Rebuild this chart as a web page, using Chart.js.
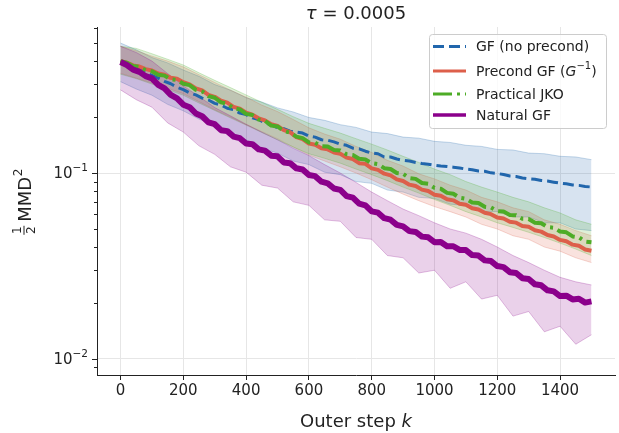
<!DOCTYPE html>
<html><head><meta charset="utf-8">
<script src="https://cdn.jsdelivr.net/npm/chart.js@4.4.1/dist/chart.umd.min.js"></script>
<style>html,body{margin:0;padding:0;background:#fff}#wrap{width:619px;height:433px}</style>
</head><body><div id="wrap"><canvas id="c" width="619" height="433"></canvas></div>
<script>
// ---- data ----
const TITLE = "0.0005";
const seriesNames = ["GF (no precond)", "Precond GF", "Practical JKO", "Natural GF"];
const xTicks = [0, 200, 400, 600, 800, 1000, 1200, 1400];
const yTickValues = [0.01, 0.1];
const yTickLabels = ["10", "10"];
const yTickExps = ["\u22122", "\u22121"];
// outer steps of the sampled points
const kMean = Array.from({length: 76}, (_, i) => i * 20);   // 0,20,...,1500
const kBand = Array.from({length: 31}, (_, i) => i * 50);   // 0,50,...,1500

const gfMean = [0.400,0.387,0.372,0.361,0.346,0.335, 0.324,0.311,0.302,0.289,0.281, 0.270,0.263,0.253,0.247,0.237, 0.232,0.223,0.219,0.210,0.206, 0.198,0.194,0.186,0.182,0.175, 0.173,0.168,0.166,0.164,0.158, 0.156,0.151,0.150,0.147,0.143, 0.141,0.136,0.135,0.131,0.128, 0.127,0.122,0.122,0.119,0.117, 0.116,0.114,0.1125,0.1115,0.110, 0.109,0.1085,0.1075,0.1065,0.105, 0.1042,0.1025,0.1022,0.1002,0.0995, 0.0982,0.0963,0.0958,0.0940,0.0932, 0.0925,0.0912,0.0905,0.0893,0.0882, 0.0875,0.0862,0.0858,0.0846,0.0841];
const precMean = [0.400,0.392,0.379,0.374,0.362,0.356, 0.343,0.338,0.325,0.321,0.308, 0.300,0.285,0.278,0.263,0.257, 0.245,0.239,0.227,0.222,0.211, 0.206,0.197,0.192,0.183,0.179, 0.170,0.166,0.156,0.152,0.144, 0.142,0.136,0.134,0.129,0.127, 0.121,0.119,0.113,0.112,0.106, 0.104,0.0992,0.0972,0.0925,0.0906, 0.0866,0.0852,0.0814,0.0800,0.0765, 0.0754,0.0723,0.0713,0.0684,0.0675, 0.0646,0.0636,0.0611,0.0601,0.0576, 0.0569,0.0547,0.0541,0.0519,0.0514, 0.0492,0.0484,0.0464,0.0456,0.0437, 0.0430,0.0412,0.0406,0.0388,0.0382];
const jkoMean = [0.400,0.392,0.376,0.372,0.357,0.353, 0.338,0.334,0.319,0.317,0.302, 0.297,0.280,0.275,0.259,0.254, 0.240,0.236,0.223,0.220,0.208, 0.205,0.194,0.191,0.180,0.178, 0.168,0.165,0.157,0.154,0.146, 0.1455,0.1395,0.1388,0.1330,0.1322, 0.1262,0.1250,0.1193,0.1183,0.1130, 0.1117,0.1062,0.1051,0.1000,0.0990, 0.0940,0.0930,0.0884,0.0875,0.0832, 0.0823,0.0782,0.0774,0.0736,0.0727, 0.0694,0.0690,0.0658,0.0653,0.0624, 0.0621,0.0595,0.0593,0.0567,0.0566, 0.0540,0.0537,0.0512,0.0508,0.0485, 0.0480,0.0456,0.0451,0.0428,0.0424];
const natMean = [0.395,0.381,0.360,0.350,0.332,0.323, 0.298,0.285,0.263,0.252,0.233, 0.226,0.209,0.202,0.187,0.183, 0.170,0.168,0.157,0.154,0.144, 0.143,0.134,0.132,0.124,0.123, 0.114,0.113,0.1060,0.1045,0.0975, 0.0962,0.0898,0.0880,0.0826,0.0812, 0.0752,0.0737,0.0684,0.0670,0.0622, 0.0612,0.0572,0.0561,0.0526,0.0516, 0.0487,0.0482,0.0455,0.0451,0.0425, 0.0426,0.0404,0.0404,0.0386,0.0385, 0.0362,0.0360,0.0339,0.0336,0.0316, 0.0312,0.0293,0.0290,0.0272,0.0269, 0.0252,0.0249,0.0234,0.0231,0.0218, 0.0219,0.0209,0.0211,0.0201,0.0204];

const gfUpper = [0.500,0.460,0.418,0.391,0.358,0.331,0.299,0.279,0.254,0.241,0.224,0.213,0.199,0.192,0.182,0.176,0.166,0.163,0.156,0.154,0.148,0.146,0.141,0.139,0.134,0.133,0.128,0.127,0.123,0.122,0.118];
const gfLower = [0.310,0.283,0.262,0.234,0.216,0.195,0.181,0.162,0.151,0.136,0.128,0.116,0.111,0.101,0.098,0.090,0.088,0.081,0.079,0.074,0.073,0.068,0.067,0.062,0.062,0.058,0.058,0.054,0.054,0.050,0.049];
const precUpper = [0.480,0.455,0.425,0.400,0.372,0.338,0.307,0.279,0.256,0.232,0.214,0.194,0.175,0.162,0.152,0.139,0.129,0.117,0.109,0.099,0.093,0.086,0.081,0.074,0.070,0.065,0.062,0.056,0.053,0.049,0.046];
const precLower = [0.344,0.324,0.305,0.286,0.267,0.242,0.219,0.200,0.182,0.167,0.153,0.138,0.125,0.116,0.108,0.100,0.092,0.084,0.077,0.071,0.066,0.062,0.058,0.053,0.050,0.046,0.044,0.040,0.038,0.035,0.033];
const jkoUpper = [0.480,0.468,0.438,0.409,0.381,0.346,0.315,0.288,0.263,0.240,0.220,0.201,0.185,0.174,0.164,0.153,0.143,0.133,0.123,0.114,0.105,0.098,0.090,0.084,0.079,0.074,0.070,0.065,0.061,0.056,0.053];
const jkoLower = [0.340,0.322,0.301,0.281,0.262,0.238,0.217,0.198,0.181,0.165,0.151,0.138,0.127,0.120,0.113,0.105,0.098,0.091,0.084,0.078,0.072,0.067,0.062,0.058,0.054,0.051,0.048,0.045,0.042,0.039,0.036];
const natUpper = [0.480,0.445,0.400,0.343,0.294,0.258,0.225,0.203,0.183,0.166,0.151,0.136,0.124,0.111,0.100,0.089,0.079,0.071,0.064,0.059,0.054,0.050,0.0475,0.044,0.040,0.036,0.033,0.030,0.0275,0.026,0.025];
const natLower = [0.280,0.248,0.226,0.186,0.166,0.140,0.126,0.108,0.101,0.086,0.083,0.070,0.067,0.056,0.055,0.045,0.044,0.036,0.035,0.029,0.030,0.024,0.026,0.021,0.022,0.017,0.018,0.0140,0.0150,0.0120,0.0135];

// ---- styles ----
const COLORS = ["#2166ac", "#dd5f4a", "#4dac26", "#8b008b"];
const RGB = ["33,102,172", "221,95,74", "77,172,38", "139,0,139"];
const DASH = [[11,5], [], [19,5,3,5], []];
const LW = [3, 4, 4, 6];
const LEG_LW = [3, 3, 3, 3.5];
const means = [gfMean, precMean, jkoMean, natMean];
const uppers = [gfUpper, precUpper, jkoUpper, natUpper];
const lowers = [gfLower, precLower, jkoLower, natLower];
const FONT = "'DejaVu Sans', sans-serif";

const pts = (ks, vs) => ks.map((k, i) => ({x: k, y: vs[i]}));
const datasets = [];
for (let s = 0; s < 4; s++) {
  datasets.push({label: seriesNames[s] + " hi", data: pts(kBand, uppers[s]), fill: "+1",
    backgroundColor: `rgba(${RGB[s]},0.18)`, borderColor: `rgba(${RGB[s]},0.25)`, borderWidth: 1,
    pointRadius: 0, order: 20 - s});
  datasets.push({label: seriesNames[s] + " lo", data: pts(kBand, lowers[s]), fill: false,
    borderColor: `rgba(${RGB[s]},0.25)`, borderWidth: 1, pointRadius: 0, order: 20 - s});
}
for (let s = 0; s < 4; s++) {
  datasets.push({label: seriesNames[s], data: pts(kMean, means[s]), fill: false,
    borderColor: COLORS[s], borderWidth: LW[s], borderDash: DASH[s], pointRadius: 0,
    borderJoinStyle: "round", order: 3 - s});
}

function richText(ctx, parts, x, y, align) {
  let w = 0;
  for (const p of parts) { ctx.font = `${p.italic ? "italic " : ""}${p.size}px ${FONT}`; p.w = ctx.measureText(p.t).width; w += p.w; }
  let cx = align === "center" ? x - w / 2 : align === "right" ? x - w : x;
  for (const p of parts) {
    ctx.font = `${p.italic ? "italic " : ""}${p.size}px ${FONT}`;
    ctx.fillText(p.t, cx, y + (p.dy || 0)); cx += p.w;
  }
  return w;
}

const overlay = {
  id: "overlay",
  afterDraw(chart) {
    const {ctx, chartArea: a, scales: {y}} = chart;
    ctx.save();
    ctx.textAlign = "left";
    ctx.fillStyle = "#222"; ctx.strokeStyle = "#222"; ctx.lineWidth = 1;
    const minors = [0.009, 0.02, 0.03, 0.04, 0.05, 0.06, 0.07, 0.08, 0.09, 0.2, 0.3, 0.4, 0.5, 0.6];
    for (const v of minors) {
      const py = Math.round(y.getPixelForValue(v)) + 0.5;
      ctx.beginPath(); ctx.moveTo(a.left - 3, py); ctx.lineTo(a.left, py); ctx.stroke();
    }
    ctx.textBaseline = "middle";
    yTickValues.forEach((v, i) => {
      const py = Math.round(y.getPixelForValue(v)) + 0.5;
      ctx.beginPath(); ctx.moveTo(a.left - 5, py); ctx.lineTo(a.left, py); ctx.stroke();
      richText(ctx, [{t: yTickLabels[i], size: 15}, {t: yTickExps[i], size: 10.5, dy: -6}], a.left - 9, py + 1, "right");
    });
    ctx.textBaseline = "alphabetic";
    const cx = (a.left + a.right) / 2;
    richText(ctx, [{t: "\u03c4", size: 18, italic: true}, {t: " = " + TITLE, size: 18}], cx, 19, "center");
    richText(ctx, [{t: "Outer step ", size: 18}, {t: "k", size: 18, italic: true}], cx, 427, "center");
    // y label (rotated)
    ctx.save();
    ctx.translate(31, 202); ctx.rotate(-Math.PI / 2);
    ctx.font = `18px ${FONT}`;
    const wM = ctx.measureText("MMD").width;
    ctx.font = `12px ${FONT}`;
    const wS = ctx.measureText("2").width;
    const wF = 9, gap = 4;
    const total = wF + gap + wM + wS;
    let sx = -total / 2;
    ctx.textAlign = "center";
    ctx.fillText("1", sx + wF / 2, -10);
    ctx.fillText("2", sx + wF / 2, 4);
    ctx.fillRect(sx, -7.5, wF, 1);
    ctx.textAlign = "left";
    sx += wF + gap;
    ctx.font = `18px ${FONT}`;
    ctx.fillText("MMD", sx, 0);
    ctx.font = `12px ${FONT}`;
    ctx.fillText("2", sx + wM + 0.5, -9);
    ctx.restore();
    // legend
    const L = 429, T = 34, R = 606, B = 128;
    ctx.fillStyle = "rgba(255,255,255,0.8)";
    ctx.strokeStyle = "#cccccc";
    ctx.beginPath(); ctx.roundRect(L + 0.5, T + 0.5, R - L, B - T, 3); ctx.fill(); ctx.stroke();
    const rows = [46.5, 71, 94, 115];
    const labels = [
      [{t: "GF (no precond)", size: 14}],
      [{t: "Precond GF (", size: 14}, {t: "G", size: 14, italic: true}, {t: "\u22121", size: 10, dy: -6}, {t: ")", size: 14}],
      [{t: "Practical JKO", size: 14}],
      [{t: "Natural GF", size: 14}]
    ];
    for (let s = 0; s < 4; s++) {
      ctx.strokeStyle = COLORS[s]; ctx.lineWidth = LEG_LW[s];
      ctx.setLineDash(DASH[s]);
      ctx.beginPath(); ctx.moveTo(433, rows[s]); ctx.lineTo(466, rows[s]); ctx.stroke();
      ctx.setLineDash([]);
      ctx.fillStyle = "#222"; ctx.textBaseline = "middle";
      richText(ctx, labels[s], 476, rows[s] + 1, "left");
    }
    ctx.restore();
  }
};

new Chart(document.getElementById("c"), {
  type: "line",
  data: {datasets},
  options: {
    responsive: false, animation: false, devicePixelRatio: 1,
    layout: {padding: {top: 27, right: 4, left: 0, bottom: 0}},
    plugins: {legend: {display: false}, tooltip: {enabled: false}, title: {display: false}},
    elements: {line: {tension: 0}},
    scales: {
      x: {type: "linear", min: -75, max: 1575,
        afterBuildTicks: s => { s.ticks = xTicks.map(v => ({value: v})); },
        afterFit: s => { s.height = 58; },
        ticks: {color: "#222", font: {family: FONT, size: 15}, padding: 2, maxRotation: 0, autoSkip: false,
          callback: v => String(v)},
        grid: {color: "#e6e6e6", lineWidth: 1, tickColor: "#222", tickLength: 5},
        border: {display: true, color: "#222", width: 1}},
      y: {type: "logarithmic", min: 0.0082, max: 0.61,
        afterBuildTicks: s => { s.ticks = yTickValues.map(v => ({value: v})); },
        afterFit: s => { s.width = 97; },
        ticks: {display: false},
        grid: {color: "#e6e6e6", lineWidth: 1, drawTicks: false},
        border: {display: true, color: "#222", width: 1}}
    }
  },
  plugins: [overlay]
});
</script>
</body></html>
